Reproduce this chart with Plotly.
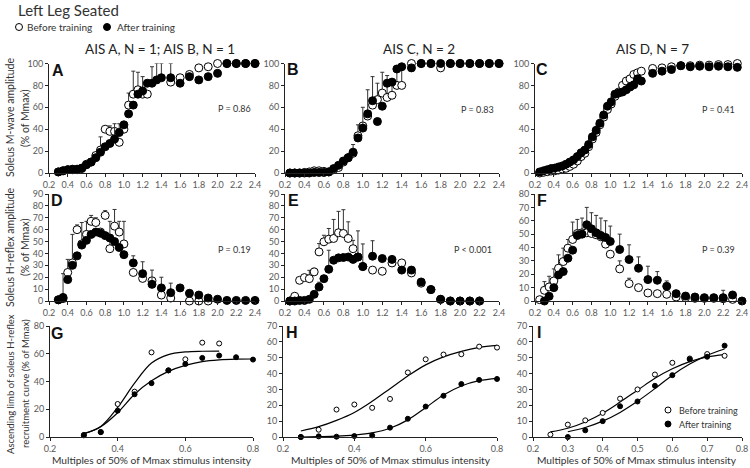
import plotly.graph_objects as go

W, H = 750, 468
FONT = "Lato"

# ---------------- data ----------------
# Row 1: soleus M-wave amplitude (% of Mmax)
A_x = [0.30, 0.35, 0.40, 0.45, 0.50, 0.55, 0.60, 0.65, 0.70, 0.75, 0.80, 0.85, 0.90, 0.95, 1.00, 1.05, 1.10,
       1.15, 1.20, 1.25, 1.30, 1.35, 1.40, 1.5, 1.6, 1.7, 1.8, 1.9, 2.0, 2.1, 2.2, 2.3, 2.4]
A_before = [1, 2, 3, 3, 3, 4, 8, 10, 16, 21, 40, 38, 38, 28, 40, 62, 72, 76, 72, 72, None, None, None,
            83, 87, 90, 96, 97, 100, 100, 100, 100, 100]
A_after = [1, 2, 3, 3.5, 3.5, 4.5, 7.5, 10, 14, 19, 24, 27, 31, 37, 44, 54, 62, 72, 75, 82, 82, 85, 87,
           87, 82, 88, 85, 88, 91, 100, 100, 100, 100]
A_before_sd = [0, 0, 0, 0, 0, 0, 0, 0, 0, 12, 0, 5, 0, 0, 0, 11, 21, 16, 16, 0, 0, 0, 0,
               0, 0, 0, 0, 0, 0, 0, 0, 0, 0]
A_after_sd = [0, 0, 0, 0, 0, 0, 0, 0, 0, 0, 0, 0, 14, 8, 0, 0, 0, 0, 0, 0, 15, 15, 13,
              13, 0, 0, 0, 0, 0, 0, 0, 0, 0]

B_x = [0.25, 0.30, 0.35, 0.40, 0.45, 0.50, 0.55, 0.60, 0.65, 0.70, 0.75, 0.80, 0.85, 0.90, 0.95, 1.00,
       1.05, 1.10, 1.15, 1.20, 1.25, 1.30, 1.35, 1.40, 1.5, 1.6, 1.7, 1.8, 1.9, 2.0, 2.1, 2.2, 2.3, 2.4]
B_before = [0, 0, 0, 0.5, 1, 2, 2, 1.5, 1, 3, 5, 10, 14, 18, 34, 43, 52, 62, 67, 73, 69, 71, 80, 80,
            100, 100, 100, 96, 100, 100, 100, 100, 100, 100]
B_after = [0, 0, 0, 0, 0, 0.5, 0.5, 0.5, 1, 4, 7, 11, 14, 19, 32, 41, 54, 66, 47, 61, 82, 83, 95, 97,
           96, 100, 100, 100, 100, 100, 100, 100, 100, 100]
B_before_sd = [0, 0, 0, 0, 0, 0, 0, 0, 0, 0, 0, 0, 0, 0, 10, 0, 0, 0, 15, 19, 20, 14, 14, 20,
               0, 0, 0, 0, 0, 0, 0, 0, 0, 0]
B_after_sd = [0, 0, 0, 0, 0, 0, 0, 0, 0, 0, 0, 0, 0, 7, 0, 19, 22, 22, 0, 0, 0, 0, 0, 0,
              0, 0, 0, 0, 0, 0, 0, 0, 0, 0]

C_x = [0.25, 0.29, 0.33, 0.37, 0.41, 0.45, 0.49, 0.53, 0.57, 0.61, 0.65, 0.69, 0.73, 0.77, 0.81, 0.85,
       0.89, 0.93, 0.97, 1.01, 1.05, 1.09, 1.13, 1.17, 1.21, 1.25, 1.29, 1.33,
       1.45, 1.55, 1.65, 1.75, 1.85, 1.95, 2.05, 2.15, 2.25, 2.35]
C_before = [0, 0.6, 1.2, 1.8, 2, 2.7, 3.7, 4.3, 6, 8, 11, 15, 18, 24, 31, 37, 44, 51, 58, 63, 70, 74,
            80, 84, 86, 90, 91.5, 93, 95.5, 96, 97, 98, 98, 98.5, 98.5, 99, 99, 100]
C_after = [1, 2, 3, 4, 4.5, 5.5, 6.5, 8, 10, 12, 15, 18.5, 21, 26, 33, 39, 45.5, 53, 61, 65, 72, 73,
           74, 76, 78.5, 80.5, 86, 84, 91, 93, 94.5, 98, 97, 97.5, 97, 97.5, 97, 96.5]

# Row 2: soleus H-reflex amplitude (% of Mmax)
D_x = [0.30, 0.35, 0.40, 0.45, 0.50, 0.55, 0.60, 0.65, 0.70, 0.75, 0.80, 0.85, 0.90, 0.95, 1.00,
       1.1, 1.2, 1.3, 1.4, 1.5, 1.6, 1.7, 1.8, 1.9, 2.0, 2.1, 2.2, 2.3, 2.4]
D_before = [1, 2, 24, 32, 60, 48, 56, 67, 66, 58, 72, 44, 63, 58, 48,
            24, 19, 17, 5, 2.5, None, 0, 0, 0, None, None, None, None, None]
D_after = [1, 3, 18, 30, 38, 47, 51, 56, 58, 57, 55, 53, 50, 45, 39,
           32, 23, 14, 11, 7, 11, 6.5, 5, 2.5, 1.5, 0.5, 0.5, 0.5, 0.5]
D_before_sd = [0, 21, 11, 24, 4, 18, 11, 5, 4, 0, 4, 23, 14, 9, 19,
               0, 0, 0, 0, 0, 0, 0, 0, 0, 0, 0, 0, 0, 0]
D_after_sd = [0, 0, 0, 0, 0, 0, 0, 0, 0, 0, 0, 0, 0, 0, 0,
              6, 10, 12, 9, 8, 0, 0, 0, 0, 0, 0, 0, 0, 0]

E_x = [0.25, 0.30, 0.35, 0.40, 0.45, 0.50, 0.55, 0.60, 0.65, 0.70, 0.75, 0.80, 0.85, 0.90, 0.95, 1.00,
       1.1, 1.2, 1.3, 1.4, 1.5, 1.6, 1.7, 1.8, 1.9, 2.0, 2.1, 2.2]
E_before = [0, 4, 17.4, 19.7, 18.8, 24.5, 41.3, 49.8, 52, 52.6, 57.4, 56.8, 52.6, 44, 37, 29,
            26, 25, 32, 32, 23.6, 15, 9.6, 1.4, 0, 0, 0, 0]
E_after = [0, 0, 0.5, 0.5, 1.4, 5.6, 11.8, 18.8, 26.7, 34.3, 36.3, 36.6, 37, 35, 37, 29,
           37.7, 35.7, 35, 26, 26, 16, 9.6, 1.4, 0, 0, 0, 0]
E_before_sd = [0, 0, 0, 0, 7, 3, 7, 5.5, 9, 16, 18, 20, 14, 7, 0, 0,
               0, 0, 0, 0, 0, 0, 0, 0, 0, 0, 0, 0]
E_after_sd = [0, 0, 0, 0, 0, 0, 4, 0, 16, 0, 0, 0, 0, 0, 22, 19,
              13, 0, 0, 0, 0, 0, 0, 0, 0, 0, 0, 0]

F_x = [0.25, 0.30, 0.35, 0.40, 0.45, 0.50, 0.55, 0.60, 0.65, 0.70, 0.75, 0.80, 0.85, 0.90, 0.95, 1.00,
       1.1, 1.2, 1.3, 1.4, 1.5, 1.6, 1.7, 1.8, 1.9, 2.0, 2.1, 2.2, 2.3, 2.4]
F_before = [1, 8, 10.5, 15, 24.5, 29.5, 39.5, 46, 50.5, 51, 51, 50.5, 49.5, 48, 42.5, 35,
            24, 13, 10, 6, 5.5, 5, 3, 2.5, 2, 2, 2, 1.7, 1.2, None]
F_after = [None, 0, 3.5, 10, 19.5, 22, 32, 38, 49, 50, 57, 54, 51, 49, 47.5, 44.5,
           38.5, 31, 24.5, 16, 15.5, 11, 5.5, 3.7, 3, 2.5, 2.5, 2.5, 4.5, 0]
F_before_sd = [0, 6.5, 8, 9, 10, 10, 6.5, 13, 0, 0, 0, 0, 0, 0, 0, 0,
               6, 4, 0, 0, 0, 0, 0, 0, 0, 0, 0, 0, 0, 0]
F_after_sd = [0, 0, 0, 0, 0, 0, 0, 0, 12, 12, 13, 12, 13, 13, 12.5, 11.5,
              11.5, 11, 8.5, 10, 6.5, 4, 1, 0, 0, 0, 0, 5.5, 0, 0]

# Row 3: ascending limb of H-reflex recruitment curve (points + fitted curves)
G_x = [0.30, 0.35, 0.40, 0.45, 0.50, 0.55, 0.60, 0.65, 0.70, 0.75, 0.80]
G_before = [1.5, 3.6, 23.8, 32.7, 61, 48, 56, 68, 67.4, None, None]
G_after = [1.2, 3.5, 19, 30.8, 38.8, 48, 52.6, 57, 58.7, 57.5, 55.8]
G_fit_before_x = [0.30, 0.35, 0.40, 0.45, 0.50, 0.55, 0.60, 0.65, 0.70]
G_fit_before = [2.4, 7.6, 21.3, 38.8, 53.3, 59.4, 61.3, 61.8, 61.9]
G_fit_after_x = [0.30, 0.35, 0.40, 0.45, 0.50, 0.55, 0.60, 0.65, 0.70, 0.75, 0.80]
G_fit_after = [2.4, 7.4, 17.5, 30.8, 40.5, 47.3, 51.6, 54.3, 55.6, 56.1, 56.2]

H_x = [0.25, 0.30, 0.35, 0.40, 0.45, 0.50, 0.55, 0.60, 0.65, 0.70, 0.75, 0.80]
H_before = [0, 4.6, 17.3, 20.5, 18.4, 24, 40.7, 49, 52, 52.2, 57, 56.4]
H_after = [0, 0.4, 0.2, 0.6, 1, 5.9, 11.5, 19.2, 26, 33.4, 36, 36.6]
H_fit_x = [0.25, 0.30, 0.35, 0.40, 0.45, 0.50, 0.55, 0.60, 0.65, 0.70, 0.75, 0.80]
H_fit_before = [3.8, 6.5, 10.5, 15.5, 22.5, 30.5, 38.5, 45.5, 50.5, 54, 56.5, 57.8]
H_fit_after = [0, 0.2, 0.5, 1.2, 2.6, 5.5, 10.8, 18.5, 26.5, 32.2, 35.5, 37]

I_x = [0.25, 0.30, 0.35, 0.40, 0.45, 0.50, 0.55, 0.60, 0.65, 0.70, 0.75]
I_before = [1.5, 7.8, 10.5, 15.2, 24.2, 30, 39.4, 46.8, 49.5, 52.3, 51.2]
I_after = [None, 0, 4.2, 10, 19.4, 22.4, 32.3, 39, 49, 50.6, 57.6]
I_fit_before_x = [0.25, 0.30, 0.35, 0.40, 0.45, 0.50, 0.55, 0.60, 0.65, 0.70, 0.75]
I_fit_before = [3.2, 5.5, 9.5, 15, 22, 29.5, 37, 43, 47.5, 50.5, 52]
I_fit_after_x = [0.30, 0.35, 0.40, 0.45, 0.50, 0.55, 0.60, 0.65, 0.70, 0.75]
I_fit_after = [3.3, 6, 10, 15.5, 22.5, 30.5, 39, 46, 51.5, 55.5]

# tick values / labels
top_xticks = [0.2, 0.4, 0.6, 0.8, 1.0, 1.2, 1.4, 1.6, 1.8, 2.0, 2.2, 2.4]
g_xticks = [0.2, 0.4, 0.6, 0.8]
i_xticks = [0.2, 0.3, 0.4, 0.5, 0.6, 0.7, 0.8]
col_titles = ["AIS A, N = 1; AIS B, N = 1", "AIS C, N = 2", "AIS D, N = 7"]
p_values = ["P = 0.86", "P = 0.83", "P = 0.41", "P = 0.19", "P < 0.001", "P = 0.39"]
panel_letters = ["A", "B", "C", "D", "E", "F", "G", "H", "I"]
x_title = "Multiples of 50% of Mmax stimulus intensity"
row_titles = [("Soleus M-wave amplitude", "(% of Mmax)"),
              ("Soleus H-reflex amplitude", "(% of Mmax)"),
              ("Ascending limb of soleus H-reflex", "recruitment curve (% of Mmax)")]

# ---------------- layout helpers ----------------
def px(x):
    return x / W


def py(y):
    return 1 - y / H


col_top = [(49, 255), (285, 499), (535, 742)]
col_bot = [(50, 253), (283, 497), (533, 742)]
row_px = [(63.5, 173), (194, 301), (326, 437)]

panel_cfg = [
    # (row, col, xrange, xticks, yrange, dtick)
    (0, 0, [0.2, 2.4], top_xticks, [0, 100], 20),
    (0, 1, [0.2, 2.4], top_xticks, [0, 100], 20),
    (0, 2, [0.2, 2.4], top_xticks, [0, 100], 20),
    (1, 0, [0.2, 2.4], top_xticks, [0, 90], 10),
    (1, 1, [0.2, 2.4], top_xticks, [0, 90], 10),
    (1, 2, [0.2, 2.4], top_xticks, [0, 80], 10),
    (2, 0, [0.2, 0.8], g_xticks, [0, 80], 20),
    (2, 1, [0.2, 0.8], g_xticks, [0, 70], 10),
    (2, 2, [0.2, 0.8], i_xticks, [0, 70], 10),
]

fig = go.Figure()
layout = dict(
    template="none",
    width=W, height=H, margin=dict(l=0, r=0, t=0, b=0, pad=0), autosize=False,
    paper_bgcolor="white", plot_bgcolor="white", showlegend=False,
    font=dict(family=FONT, color="#333333"),
)
tickfont = dict(family=FONT, size=9, color="#595959")

for i, (r, c, xr, xt, yr, dt) in enumerate(panel_cfg):
    n = i + 1
    xs = "" if n == 1 else str(n)
    cols = col_bot if r == 2 else col_top
    x0, x1 = cols[c]
    y0, y1 = row_px[r]
    layout["xaxis" + xs] = dict(
        domain=[px(x0), px(x1)], range=xr, anchor="y" + xs, automargin=False,
        tickvals=xt, ticktext=["%.1f" % v for v in xt],
        showline=True, linecolor="#222222", linewidth=1, ticks="outside", ticklen=3,
        tickcolor="#222222", showgrid=False, zeroline=False, tickfont=tickfont,
    )
    layout["yaxis" + xs] = dict(
        domain=[py(y1), py(y0)], range=yr, anchor="x" + xs, dtick=dt, tick0=0, automargin=False,
        showline=True, linecolor="#222222", linewidth=1, ticks="outside", ticklen=3,
        tickcolor="#222222", showgrid=False, zeroline=False, tickfont=tickfont,
    )


def add_pts(n, x, y, filled, size, sd=None):
    xs = "" if n == 1 else str(n)
    tr = dict(
        x=x, y=y, mode="markers", xaxis="x" + xs, yaxis="y" + xs, cliponaxis=False,
        marker=dict(size=size, color="black" if filled else "white",
                    line=dict(color="black", width=1)),
    )
    if sd is not None:
        tr["error_y"] = dict(type="data", symmetric=False, array=sd, arrayminus=[0] * len(sd),
                             color="#333333", thickness=1, width=2)
    fig.add_trace(go.Scatter(**tr))


def add_line(n, x, y):
    xs = "" if n == 1 else str(n)
    fig.add_trace(go.Scatter(x=x, y=y, mode="lines", xaxis="x" + xs, yaxis="y" + xs,
                             line=dict(color="black", width=1.2, shape="spline", smoothing=1.0),
                             cliponaxis=False))


add_pts(1, A_x, A_before, False, 8, A_before_sd)
add_pts(1, A_x, A_after, True, 8, A_after_sd)
add_pts(2, B_x, B_before, False, 8, B_before_sd)
add_pts(2, B_x, B_after, True, 8, B_after_sd)
add_pts(3, C_x, C_before, False, 8)
add_pts(3, C_x, C_after, True, 8)
add_pts(4, D_x, D_before, False, 8, D_before_sd)
add_pts(4, D_x, D_after, True, 8, D_after_sd)
add_pts(5, E_x, E_before, False, 8, E_before_sd)
add_pts(5, E_x, E_after, True, 8, E_after_sd)
add_pts(6, F_x, F_before, False, 8, F_before_sd)
add_pts(6, F_x, F_after, True, 8, F_after_sd)

add_line(7, G_fit_before_x, G_fit_before)
add_line(7, G_fit_after_x, G_fit_after)
add_pts(7, G_x, G_before, False, 5)
add_pts(7, G_x, G_after, True, 5)
add_line(8, H_fit_x, H_fit_before)
add_line(8, H_fit_x, H_fit_after)
add_pts(8, H_x, H_before, False, 5)
add_pts(8, H_x, H_after, True, 5)
add_line(9, I_fit_before_x, I_fit_before)
add_line(9, I_fit_after_x, I_fit_after)
add_pts(9, I_x, I_before, False, 5)
add_pts(9, I_x, I_after, True, 5)

ann = []
shapes = []


def text(x, y, s, size, anchor="center", color="#333333", bold=False, angle=0, family=FONT):
    ann.append(dict(x=px(x), y=py(y), xref="paper", yref="paper", text=("<b>%s</b>" % s) if bold else s,
                    showarrow=False, xanchor=anchor, yanchor="middle", textangle=angle,
                    font=dict(family=family, size=size, color=color)))


def circ(cx, cy, rad, filled):
    shapes.append(dict(type="circle", xref="paper", yref="paper",
                       x0=px(cx - rad), x1=px(cx + rad), y0=py(cy + rad), y1=py(cy - rad),
                       line=dict(color="black", width=1), fillcolor="black" if filled else "white"))


# title and top legend
text(16, 10, "Left Leg Seated", 15, anchor="left")
circ(19, 27, 3.5, False)
text(25, 27, "Before training", 10, anchor="left")
circ(107, 27, 3.5, True)
text(115, 27, "After training", 10, anchor="left")

# column titles
for cx, s in zip([160, 419, 652], col_titles):
    text(cx, 49, s, 13.5, color="#222222")

# panel letters
letter_pos = [(58, 70), (293, 69), (542, 69), (57, 200), (293, 200), (542, 200), (57, 333), (292, 332), (539, 332)]
for (lx, ly), s in zip(letter_pos, panel_letters):
    text(lx, ly, s, 16, color="#111111", bold=True, anchor="center", family="Liberation Sans, Arial")

# p values
p_pos = [(253, 108), (496, 109), (737, 109), (253, 249), (494, 249), (737, 249)]
for (x, y), s in zip(p_pos, p_values):
    text(x, y, s, 9, anchor="right", color="#333333")

# row titles
for (l1, l2), cy, fs in zip(row_titles, [118, 247, 384], [10.5, 10.5, 9.5]):
    text(10, cy, l1, fs, angle=-90)
    text(25, cy, l2, fs, angle=-90)

# x titles
for cx in [152, 391, 637]:
    text(cx, 460, x_title, 10.2)

# panel I legend
circ(668, 410, 3, False)
text(677, 410, "Before training", 9, anchor="left")
circ(668, 424, 3, True)
text(677, 424, "After training", 9, anchor="left")

layout["annotations"] = ann
layout["shapes"] = shapes
fig.update_layout(**layout)
fig.write_html("out.html", config={"displayModeBar": False, "staticPlot": True},
               post_script="document.body.style.margin='0';document.body.style.overflow='hidden';")
